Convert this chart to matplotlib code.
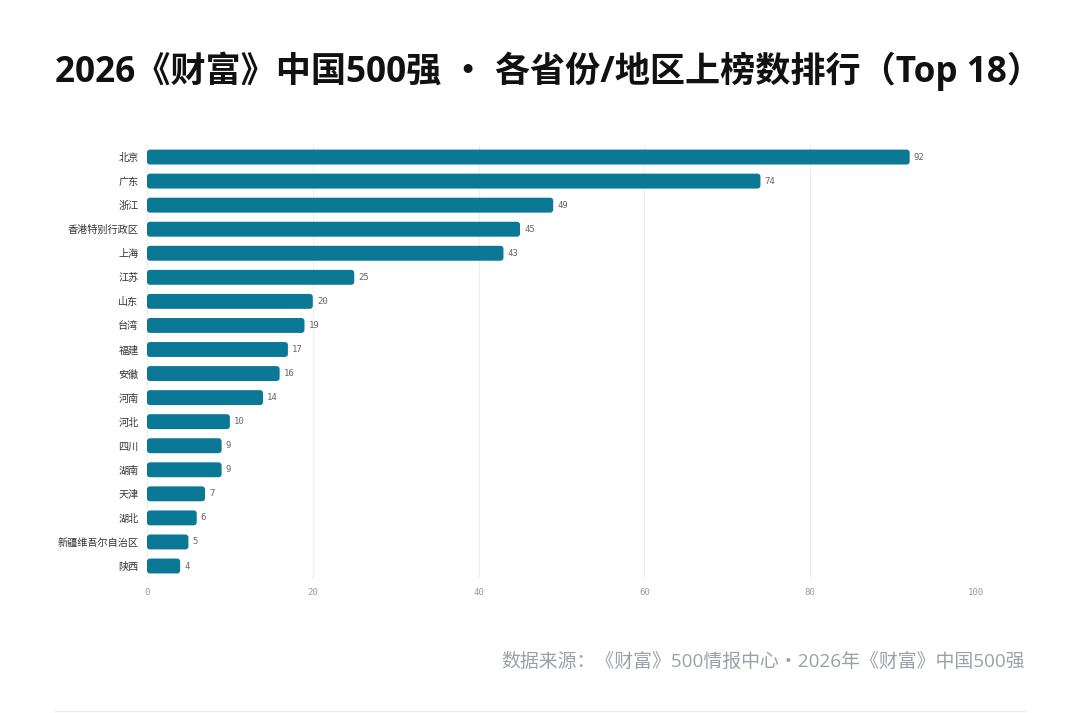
import matplotlib.pyplot as plt
from matplotlib.patches import FancyBboxPatch
from matplotlib.lines import Line2D

plt.rcParams['font.family'] = ['Noto Sans CJK SC', 'DejaVu Sans']

# 数据
regions = ['北京', '广东', '浙江', '香港特别行政区', '上海', '江苏', '山东', '台湾', '福建',
           '安徽', '河南', '河北', '四川', '湖南', '天津', '湖北', '新疆维吾尔自治区', '陕西']
counts = [92, 74, 49, 45, 43, 25, 20, 19, 17, 16, 14, 10, 9, 9, 7, 6, 5, 4]
x_ticks = [0, 20, 40, 60, 80, 100]

bar_color = '#0b7896'
latin_first = ['Open Sans', 'Noto Sans CJK SC', 'DejaVu Sans']

fig = plt.figure(figsize=(10.8, 7.13), dpi=100)
ax = fig.add_axes([0.1361, 0.1893, 0.7676, 0.6073])

ypos = list(range(len(regions)))
bars = ax.barh(ypos, counts, height=0.62, color=bar_color)

# 圆角条形
for b in bars:
    x0, y0 = b.get_x(), b.get_y()
    w, h = b.get_width(), b.get_height()
    b.set_visible(False)
    ax.add_patch(FancyBboxPatch((x0, y0), w, h,
                                boxstyle='round,pad=0,rounding_size=0.36',
                                mutation_aspect=0.345,
                                facecolor=bar_color, edgecolor='none', zorder=3))

for y, v in zip(ypos, counts):
    ax.text(v + 0.5, y, str(v), va='center', ha='left', fontsize=6.5,
            family='DejaVu Sans Mono', color='#666666')

ax.set_xlim(0, 100)
ax.set_ylim(len(regions) - 0.5, -0.5)
ax.set_xticks(x_ticks)
ax.set_xticklabels([str(t) for t in x_ticks], family='DejaVu Sans Mono',
                   fontsize=6.5, color='#999999')
ax.set_yticks(ypos)
ax.set_yticklabels(regions, fontsize=7.3, color='#333333')
ax.tick_params(axis='both', length=0)
ax.tick_params(axis='x', pad=7)
ax.tick_params(axis='y', pad=6)
ax.grid(axis='x', color='#eeeeee', linewidth=0.8, zorder=0)
ax.set_axisbelow(True)
for s in ax.spines.values():
    s.set_visible(False)

fig.text(55 / 1080, 1 - 71 / 713, '2026《财富》中国500强 \u30fb 各省份/地区上榜数排行（Top 18）',
         fontsize=25.3, fontweight='bold', color='#111111', ha='left', va='center',
         family=latin_first)
fig.text(1025 / 1080, 1 - 662 / 713, '数据来源：《财富》500情报中心\u30fb2026年《财富》中国500强',
         fontsize=13.6, color='#9aa0aa', ha='right', va='center', family=latin_first)
fig.add_artist(Line2D([55 / 1080, 1025 / 1080], [1 - 711 / 713] * 2,
                      color='#eeeeee', linewidth=1))

fig.savefig('out.png', dpi=100, facecolor='white')
